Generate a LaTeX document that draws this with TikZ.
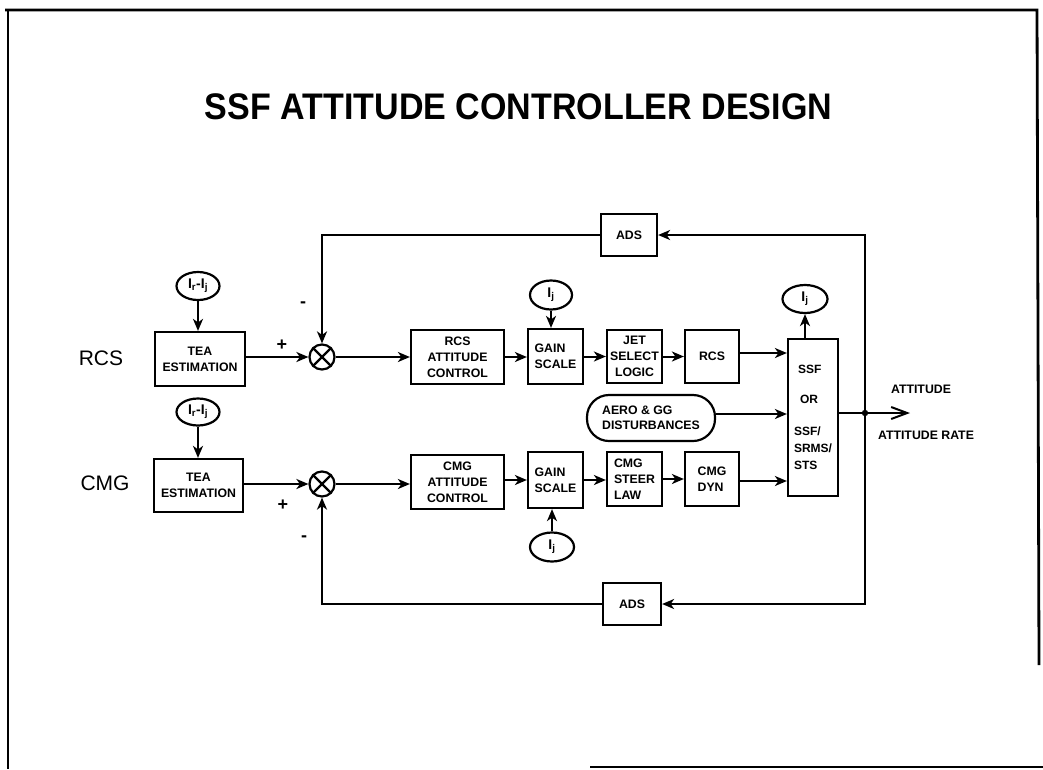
\documentclass[tikz,border=0pt]{standalone}
\usepackage{fontspec}
\setmainfont{Liberation Sans}
\newfontfamily\titlefont{Liberation Sans}[FakeStretch=0.92]
\usetikzlibrary{arrows.meta,shapes.geometric}
\begin{document}
\begin{tikzpicture}[x=1pt,y=-1pt,
  blk/.style={draw,line width=2.2pt,inner sep=0pt,align=center,
    font=\bfseries\fontsize{12.3}{15.8}\selectfont},
  lblk/.style={blk,align=left},
  oval/.style={draw,ellipse,line width=2.2pt,inner sep=0pt,
    font=\bfseries\fontsize{14}{14}\selectfont},
  sumj/.style={draw,circle,line width=2.2pt,minimum size=25pt,inner sep=0pt},
  arr/.style={line width=2pt,-{Stealth[length=12pt,width=10pt,inset=3.5pt]}},
  ln/.style={line width=2pt},
  sgn/.style={font=\bfseries\fontsize{18}{18}\selectfont},
  side/.style={font=\fontsize{21}{21}\selectfont},
  outl/.style={font=\bfseries\fontsize{12.3}{12}\selectfont},
  frame/.style={line width=2.8pt}
]
\useasboundingbox (0,0) rectangle (1043,769);
% frame
\draw[frame] (5,10) -- (1037,10) -- (1039,665);
\draw[frame] (8,10) -- (8,769);
\draw[frame] (590,767) -- (1043,767);
% title
\node (title) at (518.5,107) {\titlefont\bfseries\fontsize{37}{37}\selectfont SSF ATTITUDE CONTROLLER DESIGN};
% side labels
\node[side] (lrcs) at (101,358) {RCS};
\node[side] (lcmg) at (105,483) {CMG};
% blocks
\node[blk,minimum width=90pt,minimum height=54pt] (tea1) at (200,359) {TEA\\ESTIMATION};
\node[blk,minimum width=89pt,minimum height=53pt] (tea2) at (198.5,485.5) {TEA\\ESTIMATION};
\node[blk,minimum width=93pt,minimum height=54pt] (att1) at (457.5,357) {RCS\\ATTITUDE\\CONTROL};
\node[blk,minimum width=93pt,minimum height=54pt] (att2) at (457.5,482) {CMG\\ATTITUDE\\CONTROL};
\node[lblk,minimum width=55pt,minimum height=55pt] (gain1) at (555.5,356.5) {GAIN\\SCALE};
\node[lblk,minimum width=55pt,minimum height=56pt] (gain2) at (555.5,480) {GAIN\\SCALE};
\node[blk,minimum width=55pt,minimum height=53pt] (jet) at (634.5,356.5) {JET\\SELECT\\LOGIC};
\node[lblk,minimum width=55pt,minimum height=54pt] (steer) at (634.5,479) {CMG\\STEER\\LAW};
\node[blk,minimum width=54pt,minimum height=53pt] (rcs) at (712,356.5) {RCS};
\node[lblk,minimum width=54pt,minimum height=54pt] (dyn) at (712,479) {CMG\\DYN};
\node[lblk,minimum width=50pt,minimum height=157pt,font=\bfseries\fontsize{12}{17}\selectfont] (ssf) at (813,417.5) {\hspace{4pt}SSF\\[13pt]\hspace{6pt}OR\\[15pt]SSF/\\SRMS/\\STS};
\node[lblk,minimum width=128pt,minimum height=46pt,rounded corners=22pt,font=\bfseries\fontsize{12.3}{15}\selectfont] (aero) at (651,418) {AERO \& GG\\DISTURBANCES};
\node[blk,minimum width=56pt,minimum height=42pt] (ads1) at (629,235) {ADS};
\node[blk,minimum width=58pt,minimum height=42pt] (ads2) at (632,604) {ADS};
% ovals
\node[oval,minimum width=43pt,minimum height=28pt] (e1) at (198,286) {I\textsubscript{r}-I\textsubscript{j}};
\node[oval,minimum width=43pt,minimum height=27pt] (e2) at (198,412) {I\textsubscript{r}-I\textsubscript{j}};
\node[oval,minimum width=42pt,minimum height=29pt] (e3) at (551,295) {I\textsubscript{j}};
\node[oval,minimum width=44pt,minimum height=29pt] (e4) at (552,547) {I\textsubscript{j}};
\node[oval,minimum width=45pt,minimum height=28pt] (e5) at (805,299) {I\textsubscript{j}};
% summing junctions
\node[sumj] (s1) at (322,357) {};
\node[sumj] (s2) at (322,484) {};
\foreach \s in {s1,s2} {
  \draw[line width=2.2pt] (\s.north east) -- (\s.south west);
  \draw[line width=2.2pt] (\s.north west) -- (\s.south east);
}
% signs
\node[sgn] (p1) at (282,345) {+};
\node[sgn] (m1) at (303,305) {-};
\node[sgn] (p2) at (283,505) {+};
\node[sgn] (m2) at (304,539) {-};
% output labels
\node[outl] (la) at (921,389) {ATTITUDE};
\node[outl] (lr) at (926,435) {ATTITUDE RATE};
\coordinate (j) at (865,413);
\coordinate (out) at (910,413);
\coordinate (tr) at (865,235);
\coordinate (br) at (865,604);
\coordinate (tl) at (322,235);
\coordinate (bl) at (322,604);
% connectors
\draw[arr] (e1) -- (e1 |- tea1.north);
\draw[arr] (e2) -- (e2 |- tea2.north);
\draw[arr] (e3) -- (e3 |- gain1.north);
\draw[arr] (e4) -- (e4 |- gain2.south);
\draw[arr] (ssf.north -| e5) -- (e5);
\draw[arr] (tea1.east |- s1) -- (s1);
\draw[arr] (tea2.east |- s2) -- (s2);
\draw[arr] (s1) -- (att1);
\draw[arr] (s2) -- (att2.west |- s2);
\draw[arr] (att1) -- (gain1.west |- att1);
\draw[arr] (att2.east |- gain2) -- (gain2);
\draw[arr] (gain1) -- (jet.west |- gain1);
\draw[arr] (gain2) -- (steer.west |- gain2);
\draw[arr] (jet) -- (rcs);
\draw[arr] (steer) -- (dyn);
\draw[arr] (rcs.east |- 0,353) -- (ssf.west |- 0,353);
\draw[arr] (aero.east |- 0,414) -- (ssf.west |- 0,414);
\draw[arr] (dyn.east |- 0,481) -- (ssf.west |- 0,481);
\draw[line width=2pt,-{Straight Barb[length=16pt,width=12pt,line width=2pt]}] (ssf.east |- j) -- (out);
\fill (j) circle (3.2pt);
\draw[arr] (j) -- (tr) -- (ads1);
\draw[arr] (ads1) -- (tl) -- (s1);
\draw[arr] (j) -- (br) -- (ads2);
\draw[arr] (ads2) -- (bl) -- (s2);
\end{tikzpicture}
\end{document}
